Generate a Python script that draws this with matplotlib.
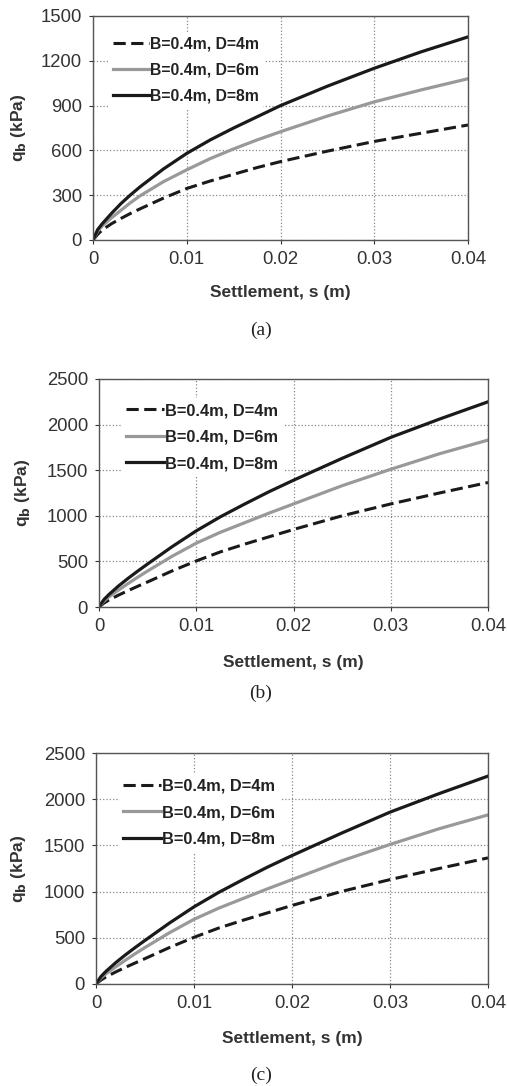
import matplotlib
matplotlib.use("Agg")
import matplotlib.pyplot as plt

plt.rcParams['font.family'] = ['Liberation Sans', 'DejaVu Sans']

# settlement (m)
s = [0, 0.0005, 0.001, 0.002, 0.003, 0.004, 0.005, 0.0075, 0.01, 0.0125,
     0.015, 0.0175, 0.02, 0.025, 0.03, 0.035, 0.04]

# panel (a) base resistance (kPa)
a_d4 = [0, 38, 68, 110, 145, 178, 208, 280, 345, 395, 440, 485, 525, 595, 660, 715, 770]
a_d6 = [0, 60, 95, 150, 200, 250, 295, 390, 470, 545, 610, 670, 725, 830, 925, 1005, 1080]
a_d8 = [0, 70, 110, 180, 245, 302, 355, 475, 580, 670, 750, 825, 900, 1030, 1150, 1260, 1360]

# panel (b)
b_d4 = [0, 42, 75, 130, 180, 228, 275, 395, 505, 605, 690, 770, 850, 1000, 1130, 1250, 1365]
b_d6 = [0, 65, 110, 185, 258, 328, 395, 555, 700, 820, 925, 1030, 1130, 1330, 1510, 1680, 1830]
b_d8 = [0, 80, 135, 230, 315, 395, 472, 660, 835, 990, 1130, 1265, 1390, 1630, 1860, 2060, 2250]

# panel (c) - same curves as (b)
c_d4 = list(b_d4)
c_d6 = list(b_d6)
c_d8 = list(b_d8)

labels = ["B=0.4m, D=4m", "B=0.4m, D=6m", "B=0.4m, D=8m"]
x_ticks = [0, 0.01, 0.02, 0.03, 0.04]
x_ticklabels = ["0", "0.01", "0.02", "0.03", "0.04"]
a_yticks = [0, 300, 600, 900, 1200, 1500]
bc_yticks = [0, 500, 1000, 1500, 2000, 2500]
captions = ["(a)", "(b)", "(c)"]

W, H = 507, 1086
fig = plt.figure(figsize=(W / 100, H / 100), dpi=100)

# axes boxes in pixels: left, top, right, bottom
boxes = [(93, 16, 468, 240), (99, 379, 488, 607), (96, 753, 488, 984)]
panels = [(a_d4, a_d6, a_d8, a_yticks),
          (b_d4, b_d6, b_d8, bc_yticks),
          (c_d4, c_d6, c_d8, bc_yticks)]
leg_anchor = [(0.04, 0.93), (0.057, 0.916), (0.056, 0.91)]
leg_size = [11.3, 11.8, 11.8]
ylab_x = [18, 22, 18]
xlab_y = [293, 662, 1038]
cap_y = [330, 693, 1075]

for i, ((l, t, r, b), (d4, d6, d8, yt)) in enumerate(zip(boxes, panels)):
    ax = fig.add_axes([l / W, 1 - b / H, (r - l) / W, (b - t) / H])
    ax.plot(s, d4, color='#1a1a1a', lw=2.2, ls=(0, (4, 1.8)), label=labels[0])
    ax.plot(s, d6, color='#999999', lw=2.3, label=labels[1])
    ax.plot(s, d8, color='#1a1a1a', lw=2.3, label=labels[2])

    ax.set_xlim(0, 0.04)
    ax.set_ylim(yt[0], yt[-1])
    ax.set_xticks(x_ticks)
    ax.set_xticklabels(x_ticklabels)
    ax.set_yticks(yt)
    ax.grid(True, ls=':', color='#888888', lw=0.9)
    ax.set_axisbelow(True)
    for sp in ax.spines.values():
        sp.set_color('#555555')
        sp.set_linewidth(1.0)
    ax.tick_params(labelsize=13.3, colors='#333333', length=3, width=0.8, pad=5)

    # labels placed in figure pixels
    fig.text(ylab_x[i] / W, 1 - (t + b) / 2 / H, r"q$_\mathbf{b}$ (kPa)",
             rotation=90, ha='center', va='center', fontsize=12.5,
             fontweight='bold', color='#333333')
    fig.text((l + r) / 2 / W, 1 - xlab_y[i] / H, "Settlement, s (m)",
             ha='center', va='center', fontsize=12.5, fontweight='bold',
             color='#333333')

    leg = ax.legend(loc='upper left', bbox_to_anchor=leg_anchor[i], frameon=True,
                    framealpha=1, edgecolor='none', facecolor='white',
                    fontsize=leg_size[i], handlelength=2.3, handletextpad=0.1,
                    labelspacing=0.7, borderpad=0.3, borderaxespad=0)
    for txt in leg.get_texts():
        txt.set_fontweight('bold')
        txt.set_color('#222222')

    fig.text(261 / W, 1 - cap_y[i] / H, captions[i], ha='center', va='center',
             fontsize=14, family=['Liberation Serif', 'DejaVu Serif'], color='#222222')

fig.savefig("out.png", dpi=100)
